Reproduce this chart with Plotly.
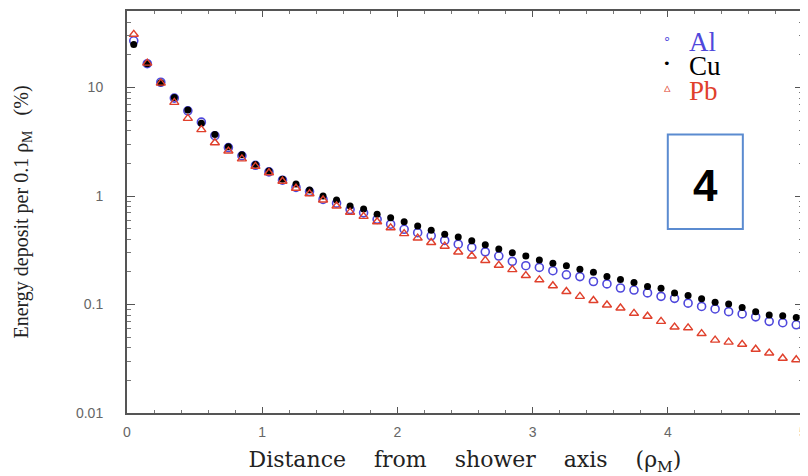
import plotly.graph_objects as go

x_dist = [round(0.05 + 0.1 * i, 2) for i in range(50)]

al_vals = [27, 16.6, 11.2, 8.0, 6.1, 4.8, 3.6, 2.8, 2.35, 1.92,
           1.67, 1.4, 1.2, 1.1, 0.93, 0.86, 0.75, 0.70, 0.61, 0.55,
           0.494, 0.46, 0.43, 0.39, 0.36, 0.336, 0.306, 0.28, 0.25, 0.228,
           0.22, 0.205, 0.188, 0.181, 0.163, 0.155, 0.142, 0.136, 0.128, 0.119,
           0.114, 0.103, 0.096, 0.091, 0.086, 0.082, 0.077, 0.070, 0.068, 0.065]

cu_vals = [25, 16.6, 11.1, 8.1, 6.2, 4.7, 3.7, 2.85, 2.4, 1.95,
           1.7, 1.43, 1.29, 1.14, 1.0, 0.92, 0.81, 0.76, 0.68, 0.63,
           0.58, 0.53, 0.485, 0.445, 0.42, 0.387, 0.355, 0.325, 0.30, 0.28,
           0.257, 0.24, 0.228, 0.212, 0.198, 0.181, 0.17, 0.16, 0.147, 0.141,
           0.128, 0.121, 0.113, 0.105, 0.101, 0.094, 0.086, 0.080, 0.079, 0.076]

pb_vals = [31, 16.8, 11.0, 7.3, 5.2, 4.1, 3.1, 2.6, 2.2, 1.88,
           1.64, 1.37, 1.18, 1.05, 0.92, 0.81, 0.71, 0.65, 0.58, 0.51,
           0.45, 0.41, 0.373, 0.345, 0.305, 0.28, 0.255, 0.23, 0.21, 0.185,
           0.169, 0.149, 0.132, 0.119, 0.109, 0.099, 0.093, 0.083, 0.078, 0.070,
           0.062, 0.061, 0.054, 0.047, 0.045, 0.043, 0.0387, 0.0357, 0.032, 0.031]

series_names = ["Al", "Cu", "Pb"]
y_tick_vals = [0.01, 0.1, 1, 10]
y_tick_text = ["0.01", "0.1", "1", "10"]
x_tick_vals = [0, 1, 2, 3, 4, 5]

AL_COL = "#4f48dc"
CU_COL = "#000000"
PB_COL = "#e0402c"

fig = go.Figure()
fig.add_trace(go.Scatter(x=x_dist, y=al_vals, mode="markers", name="Al",
                         marker=dict(symbol="circle-open", size=8, color=AL_COL,
                                     line=dict(width=1.6, color=AL_COL))))
fig.add_trace(go.Scatter(x=x_dist, y=cu_vals, mode="markers", name="Cu",
                         marker=dict(symbol="circle", size=7, color=CU_COL)))
fig.add_trace(go.Scatter(x=x_dist, y=pb_vals, mode="markers", name="Pb",
                         marker=dict(symbol="triangle-up-open", size=8, color=PB_COL,
                                     line=dict(width=1.4, color=PB_COL))))

minor_y = []
for d in [0.01, 0.1, 1, 10]:
    for k in range(2, 10):
        minor_y.append(d * k)

fig.update_layout(
    width=800, height=468,
    margin=dict(l=119, r=5, t=1, b=63),
    paper_bgcolor="white", plot_bgcolor="white",
    showlegend=False,
    xaxis=dict(range=[0, 5], tickvals=x_tick_vals,
               ticks="inside", ticklen=6, tickcolor="#555",
               showline=True, linecolor="#555", linewidth=2, mirror="allticks",
               showgrid=False, zeroline=False,
               minor=dict(dtick=0.2, ticks="inside", ticklen=3, tickcolor="#777"),
               tickfont=dict(family="Liberation Sans", size=14, color="#666"),
               ticklabelstandoff=5,
               title=dict(text="Distance    from    shower    axis    (ρ<sub>M</sub>)",
                          font=dict(family="DejaVu Serif", size=22, color="#222"),
                          standoff=14)),
    yaxis=dict(type="log", range=[-2, 1.706],
               tickvals=y_tick_vals, ticktext=y_tick_text,
               ticks="inside", ticklen=8, tickcolor="#555",
               showline=True, linecolor="#555", linewidth=2, mirror="allticks",
               showgrid=False, zeroline=False,
               minor=dict(tickvals=minor_y, ticks="inside", ticklen=4, tickcolor="#777"),
               tickfont=dict(family="Liberation Sans", size=14, color="#666"),
               ticklabelstandoff=19,
               title=dict(text="Energy deposit per 0.1 ρ<sub>M</sub>   (%)",
                          font=dict(family="Liberation Serif", size=20, color="#222"),
                          standoff=42)),
)

# legend drawn as annotations (marker glyph + coloured label)
legend_rows = [
    (series_names[0], AL_COL, "∘", 0.931, 0.923),
    (series_names[1], CU_COL, "•", 0.869, 0.862),
    (series_names[2], PB_COL, "▵", 0.809, 0.800),
]
for name, col, glyph, ym, yt in legend_rows:
    fig.add_annotation(xref="paper", yref="paper", x=0.799, y=ym, text=glyph,
                       showarrow=False, xanchor="center", yanchor="middle",
                       font=dict(family="DejaVu Sans", size=13, color=col))
    fig.add_annotation(xref="paper", yref="paper", x=0.829, y=yt, text=name,
                       showarrow=False, xanchor="left", yanchor="middle",
                       height=22,
                       font=dict(family="Liberation Serif", size=27, color=col))

fig.add_shape(type="rect", xref="paper", yref="paper",
              x0=0.800, x1=0.911, y0=0.458, y1=0.693,
              line=dict(color="#5b8bd0", width=2), fillcolor="white")
fig.add_annotation(xref="paper", yref="paper", x=0.8565, y=0.566,
                   xanchor="center", yanchor="middle",
                   text="<b>4</b>", showarrow=False,
                   font=dict(family="Liberation Sans", size=44, color="#000"))

fig.write_html("out.html")
